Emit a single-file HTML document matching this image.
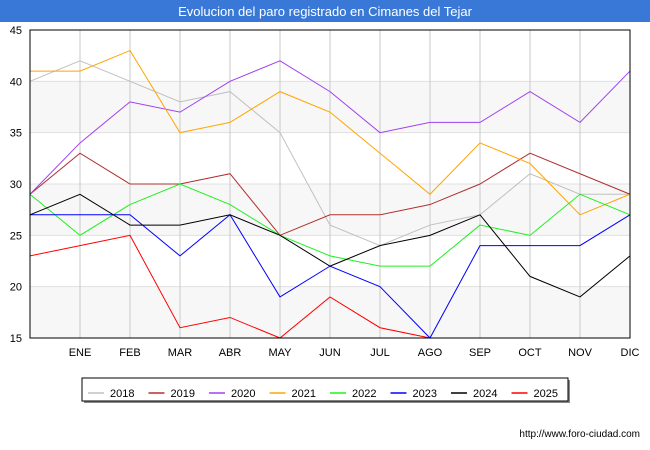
<!DOCTYPE html>
<html><head><meta charset="utf-8"><style>
body{margin:0;width:650px;height:450px;background:#fff;font-family:"Liberation Sans",sans-serif;overflow:hidden}
</style></head><body>
<svg width="650" height="450" id="c" style="display:block">
<rect x="0" y="0" width="650" height="22" fill="#3a78d8"/>
<text x="325" y="16" text-anchor="middle" fill="#fff" font-size="13">Evolucion del paro registrado en Cimanes del Tejar</text>
<g id="grid"></g><g id="lines"></g><g id="axes"></g>
<rect x="30" y="30" width="600" height="308" fill="none" stroke="#000"/>
<g id="legend"></g>
<text x="640" y="437" text-anchor="end" font-size="10" fill="#000">http://www.foro-ciudad.com</text>
</svg>
<script>
const months=["","ENE","FEB","MAR","ABR","MAY","JUN","JUL","AGO","SEP","OCT","NOV","DIC"];
const yTicks=[15,20,25,30,35,40,45];
const seriesNames=["2018","2019","2020","2021","2022","2023","2024","2025"];
const colors=["#c0c0c0","#b03030","#a040f0","#ffa500","#20f020","#0000ff","#000000","#ff0000"];
const s2018=[40,42,40,38,39,35,26,24,26,27,31,29,29];
const s2019=[29,33,30,30,31,25,27,27,28,30,33,31,29];
const s2020=[29,34,38,37,40,42,39,35,36,36,39,36,41];
const s2021=[41,41,43,35,36,39,37,33,29,34,32,27,29];
const s2022=[29,25,28,30,28,25,23,22,22,26,25,29,27];
const s2023=[27,27,27,23,27,19,22,20,15,24,24,24,27];
const s2024=[27,29,26,26,27,25,22,24,25,27,21,19,23];
const s2025=[23,24,25,16,17,15,19,16,15];
const allSeries=[s2018,s2019,s2020,s2021,s2022,s2023,s2024,s2025];
const NS="http://www.w3.org/2000/svg";
const X=i=>30+i*50, Y=v=>30+(45-v)*(308/30);
function mk(t,a,p){const e=document.createElementNS(NS,t);for(const k in a)e.setAttribute(k,a[k]);p.appendChild(e);return e;}
const g=document.getElementById('grid'),ax=document.getElementById('axes'),ln=document.getElementById('lines'),lg=document.getElementById('legend');
for(let i=0;i<yTicks.length-1;i++){if(i%2==0){const r=mk('rect',{x:30,y:Y(yTicks[i+1]),width:600,height:Y(yTicks[i])-Y(yTicks[i+1]),fill:'#f7f7f7'},g);

}}
yTicks.forEach(v=>{const l=mk('line',{x1:30,x2:630,y1:Y(v),y2:Y(v),stroke:'#e0e0e0'},g);


const t=mk('text',{x:22,y:Y(v)+4,'text-anchor':'end','font-size':11},ax);t.textContent=v;

});
months.forEach((m,i)=>{if(i>0){const l=mk('line',{x1:X(i),x2:X(i),y1:30,y2:338,stroke:'#c8c8c8'},g);

}
if(m){const t=mk('text',{x:X(i),y:356,'text-anchor':'middle','font-size':11},ax);t.textContent=m;

}});
allSeries.forEach((s,k)=>{const p=mk('polyline',{points:s.map((v,i)=>X(i)+','+Y(v)).join(' '),fill:'none',stroke:colors[k],'stroke-width':1},ln);

});
const sh=mk('rect',{x:84,y:380,width:486,height:23,fill:'#888'},lg);


const bx=mk('rect',{x:82,y:378,width:486,height:23,fill:'#fff',stroke:'#000'},lg);


seriesNames.forEach((n,k)=>{const x0=88+k*60.5;
const l=mk('line',{x1:x0,x2:x0+16,y1:393,y2:393,stroke:colors[k],'stroke-width':1.5},lg);


const t=mk('text',{x:x0+22,y:397,'font-size':11},lg);t.textContent=n;

});
</script>
</body></html>
